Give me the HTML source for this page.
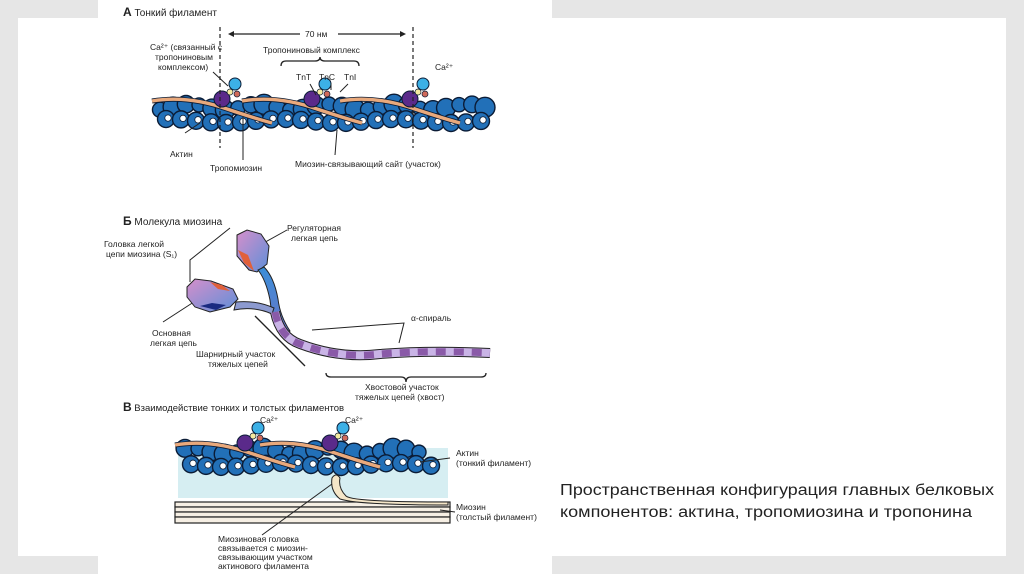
<!DOCTYPE html>
<html><head><meta charset="utf-8"><style>
html,body{margin:0;padding:0;width:1024px;height:574px;overflow:hidden;background:#e6e6e6}
svg{position:absolute;left:0;top:0}
text{font-family:"Liberation Sans",sans-serif;fill:#222}
</style></head><body>
<svg width="1024" height="574" viewBox="0 0 1024 574">
<rect x="18" y="18" width="988" height="538" fill="#fff"/>
<rect x="98" y="0" width="454" height="574" fill="#fff"/>
<rect x="178" y="448" width="270" height="50" fill="#d6eef2"/>
<g id="fA"></g>
<g id="fC"></g>
<g font-size="8.5">
<text x="123" y="16" font-size="10"><tspan font-weight="bold" font-size="12">А</tspan>  Тонкий филамент</text>
<line x1="220" y1="27" x2="220" y2="148" stroke="#222" stroke-dasharray="4,3" stroke-width="1.2"/>
<line x1="413" y1="27" x2="413" y2="148" stroke="#222" stroke-dasharray="4,3" stroke-width="1.2"/>
<line x1="230" y1="34" x2="300" y2="34" stroke="#222" stroke-width="1.2"/><line x1="338" y1="34" x2="404" y2="34" stroke="#222" stroke-width="1.2"/>
<path d="M228,34 l6,-3 v6z M406,34 l-6,-3 v6z" fill="#222"/>
<text x="305" y="37">70 нм</text>
<text x="263" y="53">Тропониновый комплекс</text>
<path d="M281,66 q0,-5 5,-5 h29 q5,0 5,-4 q0,4 5,4 h29 q5,0 5,5" fill="none" stroke="#222" stroke-width="1.3"/>
<text x="296" y="80">TnT</text><text x="319" y="80">TnC</text><text x="344" y="80">TnI</text>
<text x="150" y="50">Ca²⁺ (связанный с</text><text x="155" y="60">тропониновым</text><text x="158" y="70">комплексом)</text>
<text x="435" y="70">Ca²⁺</text>
<line x1="213" y1="72" x2="228" y2="86" stroke="#222"/>
<line x1="310" y1="84" x2="316" y2="95" stroke="#222"/><line x1="331" y1="83" x2="331" y2="90" stroke="#222"/><line x1="348" y1="84" x2="340" y2="92" stroke="#222"/>
<line x1="185" y1="133" x2="200" y2="123" stroke="#222"/><line x1="243" y1="117" x2="243" y2="160" stroke="#222"/><line x1="337" y1="130" x2="335" y2="155" stroke="#222"/>
<text x="170" y="157">Актин</text><text x="210" y="171">Тропомиозин</text><text x="295" y="167">Миозин-связывающий сайт (участок)</text>

<text x="123" y="225" font-size="10"><tspan font-weight="bold" font-size="12">Б</tspan>  Молекула миозина</text>
<text x="104" y="247">Головка легкой</text><text x="106" y="257">цепи миозина (S₁)</text>
<text x="287" y="231">Регуляторная</text><text x="291" y="241">легкая цепь</text>
<text x="152" y="336">Основная</text><text x="150" y="346">легкая цепь</text>
<text x="196" y="357">Шарнирный участок</text><text x="208" y="367">тяжелых цепей</text>
<text x="411" y="321">α-спираль</text>
<text x="365" y="390">Хвостовой участок</text><text x="355" y="400">тяжелых цепей (хвост)</text>
<path d="M190,282 v-22 l40,-32" fill="none" stroke="#222"/>
<line x1="163" y1="322" x2="200" y2="298" stroke="#222"/>
<line x1="242" y1="255" x2="287" y2="230" stroke="#222"/>
<path d="M312,330 l92,-7 l-5,20" fill="none" stroke="#222"/>
<path d="M255,316 l50,50" fill="none" stroke="#222" stroke-width="1.3"/>
<path d="M326,373 q0,4 5,4 h70 q5,0 5,5 q0,-5 5,-5 h70 q5,0 5,-4" fill="none" stroke="#222" stroke-width="1.3"/>
</g>
<defs>
<linearGradient id="hg" x1="0" y1="0" x2="1" y2="1"><stop offset="0" stop-color="#d58fcb"/><stop offset="1" stop-color="#5e8fd8"/></linearGradient>
<linearGradient id="sg" x1="0" y1="0" x2="0" y2="1"><stop offset="0" stop-color="#3a8ed8"/><stop offset="1" stop-color="#6a75c8"/></linearGradient>
</defs>
<path d="M237,235 l10,-5 l14,4 l8,12 l-2,18 l-10,8 l-8,-2 l-12,-14z" fill="url(#hg)" stroke="#222" stroke-width="1"/>
<path d="M238,250 l6,13 l10,8 l-6,-16z" fill="#e0603a"/>
<path d="M187,287 l8,-8 l16,2 l22,8 l5,10 l-8,8 l-20,5 l-15,-5 l-8,-10z" fill="url(#hg)" stroke="#222" stroke-width="1"/>
<path d="M210,282 l12,3 l8,6 l-12,-2z" fill="#e0603a"/>
<path d="M200,306 l12,-3 l14,2 l-10,5z" fill="#1a2a80"/>
<path d="M258,270 q8,10 12,30 q2,20 12,35 l8,-4 q-10,-15 -12,-32 q-4,-22 -14,-32z" fill="url(#sg)" stroke="#222"/>
<path d="M236,302 q20,-2 38,6 l-2,6 q-18,-8 -38,-4z" fill="#8c9ad0" stroke="#222"/>
<path d="M275,312 q5,25 25,32 q40,15 80,10 q50,-4 110,-1" fill="none" stroke="#222" stroke-width="10"/>
<path d="M275,312 q5,25 25,32 q40,15 80,10 q50,-4 110,-1" fill="none" stroke="#c9b4e6" stroke-width="8"/>
<path d="M275,312 q5,25 25,32 q40,15 80,10 q50,-4 110,-1" fill="none" stroke="#8a5aa8" stroke-width="7" stroke-dasharray="10,8"/>

<g font-size="8.5">
<text x="123" y="411" font-size="9.5"><tspan font-weight="bold" font-size="12">В</tspan>  Взаимодействие тонких и толстых филаментов</text>
<text x="260" y="423">Ca²⁺</text><text x="345" y="423">Ca²⁺</text>
<text x="456" y="456">Актин</text><text x="456" y="466">(тонкий филамент)</text>
<text x="456" y="510">Миозин</text><text x="456" y="520">(толстый филамент)</text>
<text x="218" y="542">Миозиновая головка</text><text x="218" y="551">связывается с миозин-</text><text x="218" y="560">связывающим участком</text><text x="218" y="569">актинового филамента</text>
</g>
<g stroke="#222" stroke-width="1.2" fill="#f6efe4">
<rect x="175" y="502" width="275" height="5"/><rect x="175" y="507" width="275" height="5"/><rect x="175" y="512" width="275" height="5"/><rect x="175" y="517" width="275" height="6"/>
</g>
<path d="M332,478 q4,-6 8,0 q-2,10 6,18 q6,6 102,6 v3 q-90,0 -108,-6 q-10,-8 -8,-21z" fill="#f5e6c8" stroke="#222"/>
<line x1="420" y1="462" x2="450" y2="458" stroke="#222"/>
<line x1="440" y1="510" x2="455" y2="512" stroke="#222"/>
<line x1="262" y1="535" x2="332" y2="484" stroke="#222"/>
<text x="560" y="495" font-size="15.5" textLength="434" lengthAdjust="spacingAndGlyphs" style="fill:#222">Пространственная конфигурация главных белковых</text>
<text x="560" y="517" font-size="15.5" textLength="412" lengthAdjust="spacingAndGlyphs" style="fill:#222">компонентов: актина, тропомиозина и тропонина</text>
</svg>
<script>
function fil(g,x0,x1,yc,tnx){
 var s='';
 var st='stroke="#0b1c36" stroke-width="1.4" fill="#2270b8"';
 for(var x=x0;x<x1;x+=13){s+='<circle cx="'+x+'" cy="'+(yc-6+Math.sin(x/11)*3)+'" r="'+(8.5+Math.cos(x/7)*1.5)+'" '+st+'/>';}
 for(var x=x0+6;x<x1+4;x+=15){var y=yc+8+Math.cos(x/18)*2;s+='<circle cx="'+x+'" cy="'+y+'" r="8.5" '+st+'/><circle cx="'+(x+2)+'" cy="'+(y-1)+'" r="3.2" fill="#fff" stroke="#0b1c36" stroke-width="0.8"/>';}
 tnx.forEach(function(t){
  s+='<path d="M'+(t-70)+','+(yc-12)+' q35,-6 75,8 q30,10 45,14" fill="none" stroke="#0b1c36" stroke-width="5"/>';
  s+='<path d="M'+(t-70)+','+(yc-12)+' q35,-6 75,8 q30,10 45,14" fill="none" stroke="#e9a97c" stroke-width="3.4"/>';
  s+='<circle cx="'+t+'" cy="'+(yc-14)+'" r="8" fill="#5a2a8a" stroke="#0b1c36"/>';
  s+='<circle cx="'+(t+8)+'" cy="'+(yc-21)+'" r="3" fill="#f5eaa0" stroke="#0b1c36" stroke-width=".7"/>';
  s+='<circle cx="'+(t+15)+'" cy="'+(yc-19)+'" r="3" fill="#d06a5a" stroke="#0b1c36" stroke-width=".7"/>';
  s+='<circle cx="'+(t+13)+'" cy="'+(yc-29)+'" r="6" fill="#3cb0e6" stroke="#0b1c36"/>';
 });
 document.getElementById(g).innerHTML=s;
}
fil('fA',160,492,113,[222,312,410]);
fil('fC',185,430,457,[245,330]);
</script>
</body></html>
